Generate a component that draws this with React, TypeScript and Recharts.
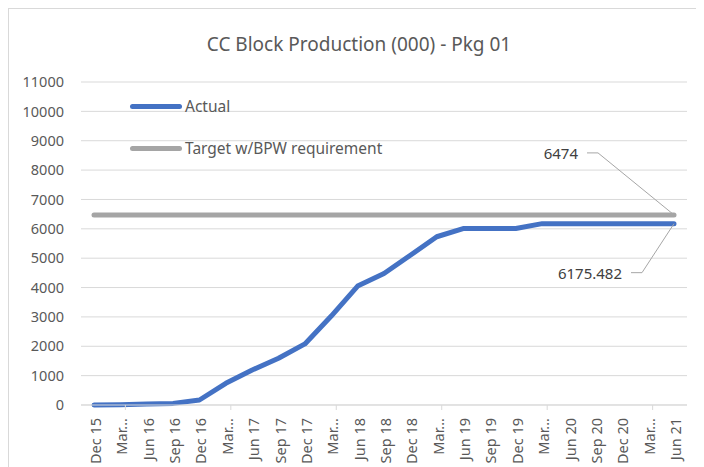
import React from "react";
import { CartesianGrid, LabelList, Legend, Line, LineChart, XAxis, YAxis } from "recharts";

// quarterly categories; Excel truncates the "Mar" ones to "Mar..."
const categories = [
  "Dec 15", "Mar 16", "Jun 16", "Sep 16", "Dec 16", "Mar 17", "Jun 17", "Sep 17",
  "Dec 17", "Mar 18", "Jun 18", "Sep 18", "Dec 18", "Mar 19", "Jun 19", "Sep 19",
  "Dec 19", "Mar 20", "Jun 20", "Sep 20", "Dec 20", "Mar 21", "Jun 21",
];

const actual = [
  0, 10, 30, 55, 170, 740, 1190, 1590, 2080, 3030, 4050, 4480, 5100, 5730, 6010, 6010,
  6010, 6175.482, 6175.482, 6175.482, 6175.482, 6175.482, 6175.482,
];

const target = [
  6474, 6474, 6474, 6474, 6474, 6474, 6474, 6474, 6474, 6474, 6474, 6474, 6474, 6474,
  6474, 6474, 6474, 6474, 6474, 6474, 6474, 6474, 6474,
];

const yTicks = [0, 1000, 2000, 3000, 4000, 5000, 6000, 7000, 8000, 9000, 10000, 11000];

const FONT = "'Noto Sans', sans-serif";
const TEXT = "#595959";

const data = categories.map((c, i) => ({ quarter: c, actual: actual[i], target: target[i] }));
const LAST = categories.length - 1;

function XTick(props: any) {
  const { x, y, payload } = props;
  const isMar = String(payload.value).startsWith("Mar");
  const label = isMar ? "Mar..." : payload.value;
  return (
    <g transform={`translate(${x},${y})`}>
      {isMar && <line x1={5} x2={5} y1={0} y2={5} stroke="#d9d9d9" />}
      <text
        transform="rotate(-90)"
        x={-13}
        y={0}
        dy={7}
        textAnchor="end"
        fill={TEXT}
        fontSize={14.5}
        fontFamily={FONT}
      >
        {label}
      </text>
    </g>
  );
}

function renderLegend(props: any) {
  return (
    <div>
      {props.payload.map((entry: any) => (
        <div key={entry.value} style={{ display: "flex", alignItems: "center", height: 42 }}>
          <span
            style={{ width: 52, height: 5, borderRadius: 3, background: entry.color, display: "inline-block" }}
          />
          <span style={{ marginLeft: 3, fontSize: 15.5, color: TEXT, fontFamily: FONT }}>{entry.value}</span>
        </div>
      ))}
    </div>
  );
}

// callout label with a bent leader line, only on the last point
function calloutLabel(dx: number, dy: number, text: string) {
  return (props: any) => {
    const { x, y, index } = props;
    if (index !== LAST) return null;
    const ty = y + dy;
    return (
      <g>
        <path
          d={`M${x + dx + 9},${ty} H${x + dx + 20} L${x},${y}`}
          stroke="#a6a6a6"
          strokeWidth={1}
          fill="none"
        />
        <text
          x={x + dx}
          y={ty}
          textAnchor="end"
          dominantBaseline="central"
          fontSize={15}
          fontFamily={FONT}
          fill="#404040"
        >
          {text}
        </text>
      </g>
    );
  };
}

export default function App() {
  return (
    <div
      style={{
        position: "relative",
        width: 700,
        height: 462,
        border: "1px solid #d9d9d9",
        background: "#fff",
      }}
    >
      <div
        style={{
          position: "absolute",
          top: 22,
          left: 0,
          width: 700,
          textAlign: "center",
          fontFamily: FONT,
          fontSize: 19,
          lineHeight: "26px",
          color: TEXT,
        }}
      >
        CC Block Production (000) - Pkg 01
      </div>
      <LineChart width={700} height={460} data={data} margin={{ top: 73, right: 22, bottom: 0, left: 0 }}>
        <CartesianGrid vertical={false} stroke="#d9d9d9" />
        <XAxis
          dataKey="quarter"
          interval={0}
          height={64}
          padding={{ left: 13, right: 13 }}
          axisLine={{ stroke: "#d9d9d9" }}
          tickLine={false}
          tickSize={0}
          tickMargin={0}
          tick={<XTick />}
        />
        <YAxis
          width={72}
          domain={[0, 11000]}
          ticks={yTicks}
          interval={0}
          axisLine={false}
          tickLine={false}
          tickSize={0}
          tickMargin={17}
          tick={{ fill: TEXT, fontSize: 14.5, fontFamily: FONT }}
        />
        <Legend
          layout="vertical"
          align="center"
          verticalAlign="middle"
          content={renderLegend}
          wrapperStyle={{ position: "absolute", left: 121, top: 76, width: "auto", height: "auto" }}
        />
        <Line
          dataKey="actual"
          name="Actual"
          stroke="#4472C4"
          strokeWidth={5}
          strokeLinecap="round"
          strokeLinejoin="round"
          dot={false}
          isAnimationActive={false}
        >
          <LabelList dataKey="actual" content={calloutLabel(-52, 49, "6175.482")} />
        </Line>
        <Line
          dataKey="target"
          name="Target w/BPW requirement"
          stroke="#A5A5A5"
          strokeWidth={5}
          strokeLinecap="round"
          strokeLinejoin="round"
          dot={false}
          isAnimationActive={false}
        >
          <LabelList dataKey="target" content={calloutLabel(-96, -62, "6474")} />
        </Line>
      </LineChart>
    </div>
  );
}
